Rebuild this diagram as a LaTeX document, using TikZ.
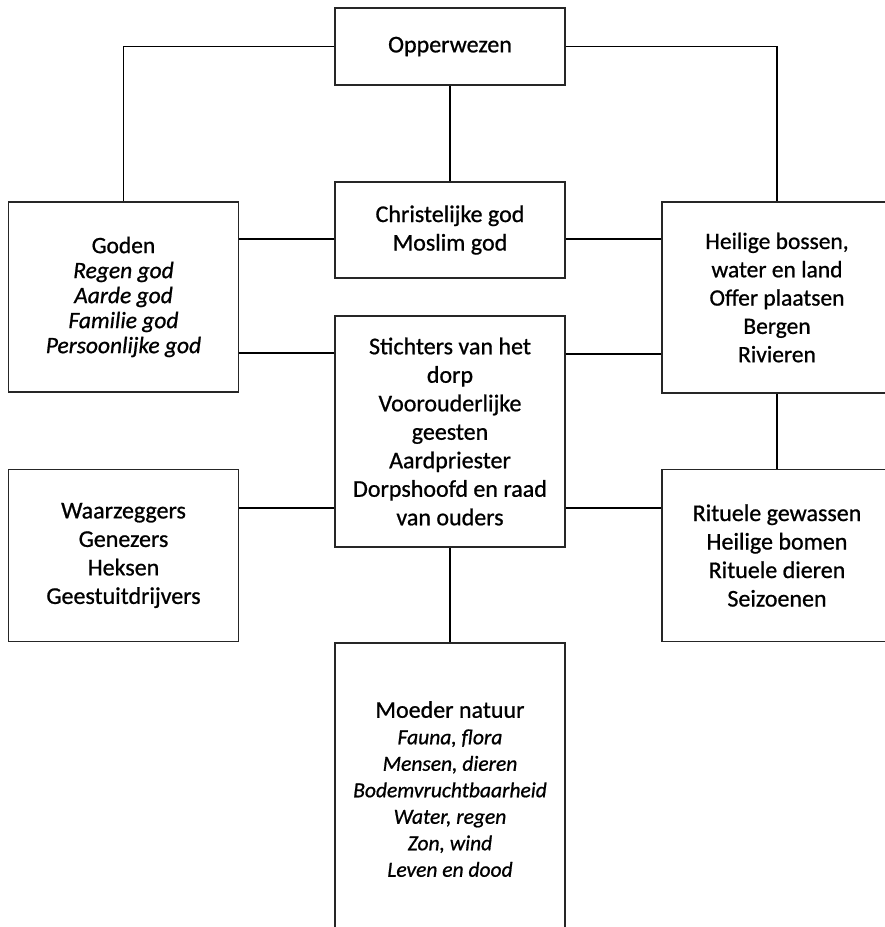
\documentclass[tikz,border=0pt]{standalone}
\usepackage{fontspec}
\setmainfont{Carlito}
\newcommand{\heavier}{\addfontfeature{FakeBold=0.8}}
\begin{document}
\begin{tikzpicture}[x=1pt,y=-1pt,
  box/.style={draw=black!85, line width=1.4pt, fill=white, rectangle, minimum width=230pt, align=center, inner sep=0pt},
  big/.style={font=\fontsize{24}{28.5}\selectfont\heavier},
  mid/.style={font=\fontsize{23.5}{25}\selectfont\heavier},
  conn/.style={draw=black, line width=1.3pt}]
\useasboundingbox (0,0) rectangle (885,927);
\begin{scope}
\clip (0,0) rectangle (885,927);
\node[box,big,minimum height=77pt] (opp) at (450,46.5) {Opperwezen};
\node[box,big,minimum height=96pt] (christ) at (450,230) {Christelijke god\\Moslim god};
\node[box,mid,minimum height=190pt] (goden) at (123.5,297) {Goden\\\textit{Regen god}\\\textit{Aarde god}\\\textit{Familie god}\\\textit{Persoonlijke god}};
\node[box,big,minimum height=191pt,font=\fontsize{23.5}{28.3}\selectfont\heavier] (heilige) at (777,297.5) {Heilige bossen,\\water en land\\Offer plaatsen\\Bergen\\Rivieren};
\node[box,big,minimum height=231pt] (sticht) at (450,431.5) {Stichters van het\\dorp\\Voorouderlijke\\geesten\\Aardpriester\\Dorpshoofd en raad\\van ouders};
\node[box,big,minimum height=172pt] (waarz) at (123.5,555.5) {Waarzeggers\\Genezers\\Heksen\\Geestuitdrijvers};
\node[box,big,minimum height=172pt] (ritueel) at (777,555.5) {Rituele gewassen\\Heilige bomen\\Rituele dieren\\Seizoenen};
\node[box,minimum height=292pt,font=\fontsize{21.5}{26.5}\selectfont\heavier] (moeder) at (450,789) {{\fontsize{24}{26.5}\selectfont Moeder natuur}\\\textit{Fauna, flora}\\\textit{Mensen, dieren}\\\textit{Bodemvruchtbaarheid}\\\textit{Water, regen}\\\textit{Zon, wind}\\\textit{Leven en dood}};
\end{scope}
\draw[conn] (opp.west) -| (goden.north);
\draw[conn] (opp.east) -| (heilige.north);
\draw[conn] (opp.south) -- (christ.north);
\draw[conn] ([yshift=-9pt]christ.west) -- ([yshift=-9pt]christ.west -| goden.east);
\draw[conn] ([yshift=-9pt]christ.east) -- ([yshift=-9pt]christ.east -| heilige.west);
\draw[conn] ([yshift=78.5pt]sticht.west) -- ([yshift=78.5pt]sticht.west -| goden.east);
\draw[conn] ([yshift=77.5pt]sticht.east) -- ([yshift=77.5pt]sticht.east -| heilige.west);
\draw[conn] ([yshift=47.5pt]waarz.east) -- ([yshift=47.5pt]waarz.east -| sticht.west);
\draw[conn] ([yshift=47.5pt]ritueel.west) -- ([yshift=47.5pt]ritueel.west -| sticht.east);
\draw[conn] (heilige.south) -- (ritueel.north);
\draw[conn] (sticht.south) -- (moeder.north);
\end{tikzpicture}
\end{document}
